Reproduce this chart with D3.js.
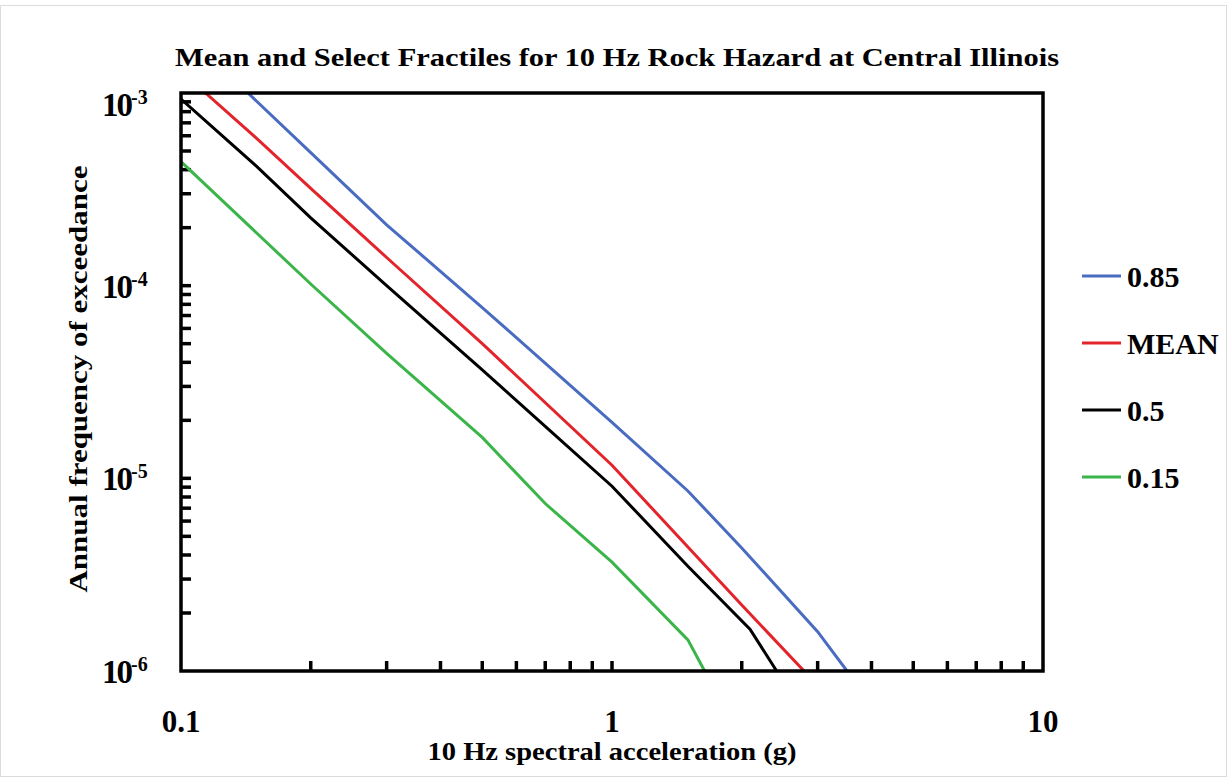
<!DOCTYPE html>
<html>
<head>
<meta charset="utf-8">
<script src="https://cdn.jsdelivr.net/npm/d3@7"></script>
<style>
  body { margin: 0; background: #fff; }
  svg text { font-family: "Liberation Serif", "Times New Roman", Times, serif; font-weight: bold; fill: #000; }
</style>
</head>
<body>
<svg id="chart" width="1228" height="778"></svg>
<script>
// hazard curves: [acceleration (g), annual frequency]
const fractile85 = [[0.143, 1e-3], [0.2, 4.9e-4], [0.3, 2.07e-4], [0.5, 7.7e-5], [1, 1.95e-5], [1.5, 8.6e-6], [2, 4.35e-6], [3, 1.6e-6], [3.51, 1e-6]];
const meanCurve = [[0.114, 1e-3], [0.15, 5.8e-4], [0.2, 3.2e-4], [0.3, 1.4e-4], [0.5, 5.0e-5], [1, 1.17e-5], [1.5, 4.4e-6], [2, 2.2e-6], [2.79, 1e-6]];
const fractile50 = [[0.1, 9.3e-4], [0.15, 4.15e-4], [0.2, 2.25e-4], [0.3, 1.0e-4], [0.5, 3.65e-5], [0.7, 1.86e-5], [1, 9.1e-6], [1.5, 3.5e-6], [2.09, 1.65e-6], [2.41, 1e-6]];
const fractile15 = [[0.1, 4.4e-4], [0.2, 1.02e-4], [0.3, 4.45e-5], [0.5, 1.63e-5], [0.7, 7.4e-6], [1, 3.67e-6], [1.5, 1.45e-6], [1.64, 1e-6]];

const seriesNames = ["0.85", "MEAN", "0.5", "0.15"];
const seriesColors = ["#4a6cc0", "#e3242b", "#000000", "#3bb54a"];
const seriesData = [fractile85, meanCurve, fractile50, fractile15];

const xTickLabels = [0.1, 1, 10];
const yTickExps = [-3, -4, -5, -6];

const svg = d3.select("#chart");
const margin = { top: 93, right: 185, bottom: 107, left: 181 };
const width = 1228, height = 778;

// faint frame around the figure
svg.append("rect")
    .attr("x", 0.5).attr("y", 5.5).attr("width", 1226).attr("height", 771)
    .attr("fill", "none").attr("stroke", "#dcdcdc");

const x = d3.scaleLog()
    .domain([0.1, 10])
    .range([margin.left, width - margin.right]);

const y = d3.scaleLog()
    .domain([1e-6, 1e-3])
    .range([height - margin.bottom, margin.top]);

svg.append("defs").append("clipPath").attr("id", "plot-clip")
    .append("rect")
    .attr("x", margin.left).attr("y", margin.top)
    .attr("width", x.range()[1] - margin.left)
    .attr("height", y.range()[0] - margin.top);

// minor ticks, pointing inside
const xMinor = [];
[0.1, 1].forEach(d => { for (let k = 2; k <= 9; k++) xMinor.push(d * k); });
xMinor.push(1);
svg.append("g")
    .selectAll("line")
    .data(xMinor)
    .join("line")
    .attr("x1", d => x(d)).attr("x2", d => x(d))
    .attr("y1", y.range()[0]).attr("y2", y.range()[0] - 10)
    .attr("stroke", "#000").attr("stroke-width", 3.5);

const yMinor = [];
[1e-6, 1e-5, 1e-4].forEach(d => { for (let k = 1; k <= 9; k++) yMinor.push(d * k); });
svg.append("g")
    .selectAll("line")
    .data(yMinor.filter(d => d > 1e-6))
    .join("line")
    .attr("x1", margin.left).attr("x2", margin.left + 10)
    .attr("y1", d => y(d)).attr("y2", d => y(d))
    .attr("stroke", "#000").attr("stroke-width", 3.5);

// curves
const line = d3.line()
    .x(d => x(d[0]))
    .y(d => y(d[1]));

svg.append("g")
    .attr("clip-path", "url(#plot-clip)")
    .selectAll("path")
    .data(seriesData)
    .join("path")
    .attr("d", line)
    .attr("fill", "none")
    .attr("stroke", (d, i) => seriesColors[i])
    .attr("stroke-width", 3);

// plot frame
svg.append("rect")
    .attr("x", margin.left).attr("y", margin.top)
    .attr("width", x.range()[1] - margin.left)
    .attr("height", y.range()[0] - margin.top)
    .attr("fill", "none").attr("stroke", "#000").attr("stroke-width", 3.5);

// x tick labels
svg.append("g")
    .selectAll("text")
    .data(xTickLabels)
    .join("text")
    .attr("x", d => x(d))
    .attr("y", 732)
    .attr("text-anchor", "middle")
    .style("font-size", "31px")
    .text(d => d3.format("~g")(d));

// y tick labels 10^n
const yLab = svg.append("g")
    .selectAll("text")
    .data(yTickExps)
    .join("text")
    .attr("x", 102)
    .attr("y", (d, i) => y(Math.pow(10, d)) + (i === 0 ? 23 : 12))
    .style("font-size", "33px")
    .style("letter-spacing", "-2px");
yLab.append("tspan").text("10");
yLab.append("tspan")
    .attr("dy", -12)
    .style("font-size", "20px")
    .style("letter-spacing", "0px")
    .text(d => d);

// title and axis titles
svg.append("text")
    .attr("x", 617).attr("y", 66)
    .attr("text-anchor", "middle")
    .attr("textLength", 884)
    .attr("lengthAdjust", "spacingAndGlyphs")
    .style("font-size", "25px")
    .text("Mean and Select Fractiles for 10 Hz Rock Hazard at Central Illinois");

svg.append("text")
    .attr("x", 612).attr("y", 760)
    .attr("text-anchor", "middle")
    .attr("textLength", 369)
    .attr("lengthAdjust", "spacingAndGlyphs")
    .style("font-size", "25px")
    .text("10 Hz spectral acceleration (g)");

svg.append("text")
    .attr("transform", "translate(87,379) rotate(-90)")
    .attr("text-anchor", "middle")
    .attr("textLength", 427)
    .attr("lengthAdjust", "spacingAndGlyphs")
    .style("font-size", "25px")
    .text("Annual frequency of exceedance");

// legend
const legend = svg.append("g")
    .selectAll("g")
    .data(seriesNames)
    .join("g")
    .attr("transform", (d, i) => `translate(1082, ${276 + i * 67})`);

legend.append("line")
    .attr("x1", 0).attr("x2", 39)
    .attr("stroke", (d, i) => seriesColors[i])
    .attr("stroke-width", 3);

legend.append("text")
    .attr("x", 45).attr("y", 11)
    .style("font-size", "30px")
    .text(d => d);
</script>
</body>
</html>
